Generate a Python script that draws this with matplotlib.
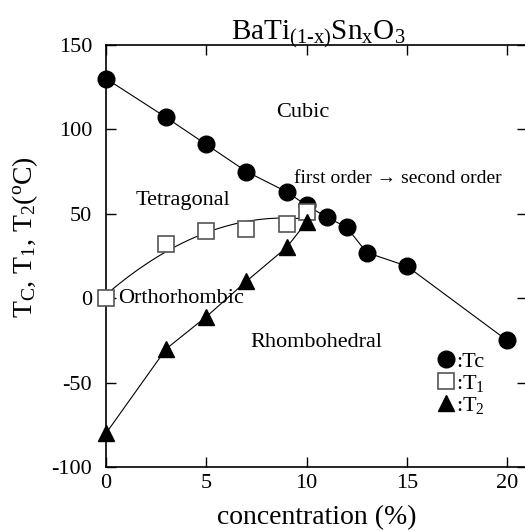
import numpy as np
import matplotlib
matplotlib.use('Agg')
import matplotlib.pyplot as plt

plt.rcParams['font.family'] = ['Liberation Serif', 'DejaVu Serif']
plt.rcParams['mathtext.fontset'] = 'custom'
plt.rcParams['mathtext.rm'] = 'Liberation Serif'
plt.rcParams['mathtext.it'] = 'Liberation Serif'
plt.rcParams['axes.unicode_minus'] = False

# Sn concentration (%) and transition temperatures (deg C)
tc_x = [0, 3, 5, 7, 9, 10, 11, 12, 13, 15, 20]
tc_y = [130, 107, 91, 75, 63, 55, 48, 42, 27, 19, -25]

t1_x = [0, 3, 5, 7, 9, 10]
t1_y = [0, 32, 40, 41, 44, 51]

t2_x = [0, 3, 5, 7, 9, 10]
t2_y = [-80, -30, -11, 10, 30, 45]

x_ticks = [0, 5, 10, 15, 20]
y_ticks = [-100, -50, 0, 50, 100, 150]

fig = plt.figure(figsize=(5.25, 5.31), dpi=100)
ax = fig.add_axes([0.202, 0.1205, 0.802, 0.795])

lw = 0.8
ax.plot(tc_x, tc_y, '-', color='black', lw=lw, zorder=2)
ax.plot(t2_x, t2_y, '-', color='black', lw=lw, zorder=2)

# guide curve for T1: quadratic fit of the measured points
coef = np.polyfit(t1_x, t1_y, 2)
xs = np.linspace(0, 10, 100)
ax.plot(xs, np.polyval(coef, xs), '-', color='black', lw=lw, zorder=2)

ax.plot(tc_x, tc_y, 'o', ms=12, color='black', ls='none', zorder=3,
        label=':Tc', clip_on=False)
ax.plot(t1_x, t1_y, 's', ms=11, mfc='white', mec='#555555', mew=1.2,
        ls='none', zorder=4, label=':T$_1$', clip_on=False)
ax.plot(t2_x, t2_y, '^', ms=12, color='black', ls='none', zorder=5,
        label=':T$_2$', clip_on=False)

ax.set_xlim(0, 21)
ax.set_ylim(-100, 150)
ax.set_xticks(x_ticks)
ax.set_yticks(y_ticks)
ax.tick_params(direction='in', length=7, width=1, labelsize=16,
               top=True, right=True)
ax.tick_params(axis='y', pad=10)
ax.tick_params(axis='x', pad=5)
for s in ax.spines.values():
    s.set_linewidth(1.2)

ax.set_title('BaTi$_{(1\\text{-}x)}$Sn$_x$O$_3$', fontsize=21, pad=4, x=0.505)
ax.set_xlabel('concentration (%)', fontsize=20, labelpad=9)
ax.set_ylabel('T$_C$, T$_1$, T$_2$($^o$C)', fontsize=20)
ax.yaxis.set_label_coords(-0.157, 0.545)

ax.text(8.5, 110, 'Cubic', fontsize=16, va='center')
ax.text(9.35, 71, 'first order \u2192 second order', fontsize=14, va='center')
ax.text(1.45, 58, 'Tetragonal', fontsize=16, va='center')
ax.text(0.6, 0, 'Orthorhombic', fontsize=16, va='center')
ax.text(7.2, -26, 'Rhombohedral', fontsize=16, va='center')

ax.legend(loc='upper left', bbox_to_anchor=(0.765, 0.295), frameon=False,
          fontsize=16, handlelength=0.8, handletextpad=0.05,
          labelspacing=0.05, borderaxespad=0, markerscale=1.0)

fig.savefig('out.png', dpi=100)
